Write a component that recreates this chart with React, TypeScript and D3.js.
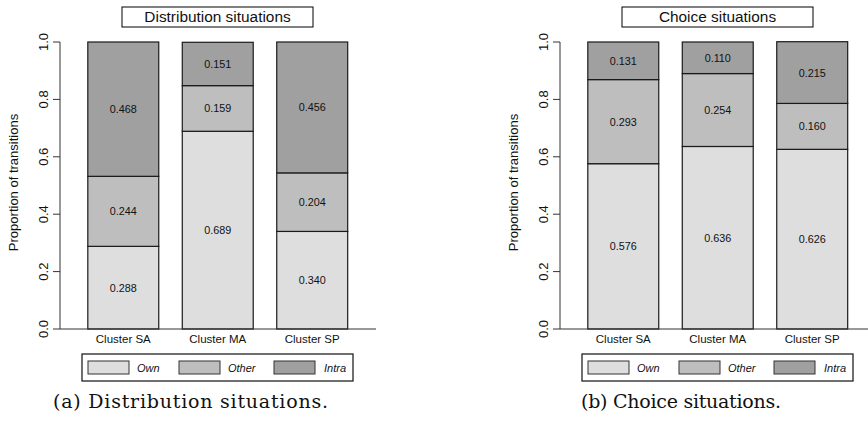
import React from 'react';
import * as d3 from 'd3';

const clusters = ['Cluster SA', 'Cluster MA', 'Cluster SP'];
const categories = ['Own', 'Other', 'Intra'];

const distOwn = [0.288, 0.689, 0.340];
const distOther = [0.244, 0.159, 0.204];
const distIntra = [0.468, 0.151, 0.456];

const choiceOwn = [0.576, 0.636, 0.626];
const choiceOther = [0.293, 0.254, 0.160];
const choiceIntra = [0.131, 0.110, 0.215];

const yTicks = [0, 0.2, 0.4, 0.6, 0.8, 1.0];

const colors: Record<string, string> = { Own: '#dedede', Other: '#bebebe', Intra: '#a0a0a0' };
const sans = '"Liberation Sans", Arial, Helvetica, sans-serif';

const W = 868;
const H = 438;

function Panel({ title, own, other, intra, dx, caption, capX, capLen }: any) {
  const rows = clusters.map((c, i) => ({ cluster: c, Own: own[i], Other: other[i], Intra: intra[i] }));
  const series = d3.stack<any>().keys(categories)(rows);

  const x = d3.scaleBand().domain(clusters).range([76, 359.5]).paddingInner(0.249).paddingOuter(0.125);
  const y = d3.scaleLinear().domain([0, 1]).range([329, 42]);

  // legend layout (R legend, horiz)
  const swX = [88, 179, 274];
  const txX = [137, 228, 324];

  return (
    <g>
      <g transform={`translate(${dx},0)`}>
        {/* title box */}
        <rect x={122} y={7} width={191} height={20} fill="#fff" stroke="#000" strokeWidth={1} />
        <text x={217.5} y={22} textAnchor="middle" fontFamily={sans} fontSize={15.4} fill="#111">{title}</text>

        {/* bars */}
        {series.map((s) =>
          s.map((d, i) => (
            <rect
              key={s.key + i}
              x={x(clusters[i])}
              y={y(d[1])}
              width={x.bandwidth()}
              height={y(d[0]) - y(d[1])}
              fill={colors[s.key]}
              stroke="#1a1a1a"
              strokeWidth={1.2}
            />
          ))
        )}
        {series.map((s) =>
          s.map((d, i) => (
            <text
              key={'t' + s.key + i}
              x={(x(clusters[i]) as number) + x.bandwidth() / 2}
              y={y((d[0] + d[1]) / 2) + 4}
              textAnchor="middle"
              fontFamily={sans}
              fontSize={10.8}
              fill="#111"
            >
              {(d[1] - d[0]).toFixed(3)}
            </text>
          ))
        )}

        {/* axes */}
        <line x1={60} x2={60} y1={y(0)} y2={y(1)} stroke="#333" strokeWidth={1} />
        <line x1={60} x2={376} y1={y(0)} y2={y(0)} stroke="#333" strokeWidth={1} />
        {yTicks.map((t) => (
          <g key={t}>
            <line x1={53} x2={60} y1={y(t)} y2={y(t)} stroke="#333" strokeWidth={1} />
            <text
              transform={`translate(48,${y(t)}) rotate(-90)`}
              textAnchor="middle"
              fontFamily={sans}
              fontSize={13}
              fill="#111"
            >
              {t.toFixed(1)}
            </text>
          </g>
        ))}
        <text
          transform={`translate(18,${182.5}) rotate(-90)`}
          textAnchor="middle"
          fontFamily={sans}
          fontSize={13}
          fill="#111"
        >
          Proportion of transitions
        </text>
        {clusters.map((c) => (
          <text
            key={c}
            x={(x(c) as number) + x.bandwidth() / 2}
            y={343}
            textAnchor="middle"
            fontFamily={sans}
            fontSize={11.5}
            fill="#111"
          >
            {c}
          </text>
        ))}

        {/* legend */}
        <rect x={82} y={354} width={271} height={27} fill="#fff" stroke="#222" strokeWidth={1.3} />
        {categories.map((k, i) => (
          <g key={k}>
            <rect x={swX[i]} y={361} width={41} height={13} fill={colors[k]} stroke="#333" strokeWidth={1} />
            <text x={txX[i]} y={371.5} fontFamily={sans} fontStyle="italic" fontSize={11} fill="#111">{k}</text>
          </g>
        ))}
      </g>

      {/* caption */}
      <text
        x={capX}
        y={408}
        fontFamily='"DejaVu Serif", "Liberation Serif", serif'
        fontSize={19}
        textLength={capLen}
        lengthAdjust="spacing"
        fill="#111"
      >
        {caption}
      </text>
    </g>
  );
}

export default function App() {
  return (
    <svg width={W} height={H} style={{ position: 'absolute', left: 0, top: 0, background: '#fff' }}>
      <rect width={W} height={H} fill="#fff" />
      <Panel
        title="Distribution situations"
        own={distOwn}
        other={distOther}
        intra={distIntra}
        dx={0}
        caption="(a) Distribution situations."
        capX={53}
        capLen={275}
      />
      <Panel
        title="Choice situations"
        own={choiceOwn}
        other={choiceOther}
        intra={choiceIntra}
        dx={500}
        caption="(b) Choice situations."
        capX={581}
        capLen={200}
      />
    </svg>
  );
}
